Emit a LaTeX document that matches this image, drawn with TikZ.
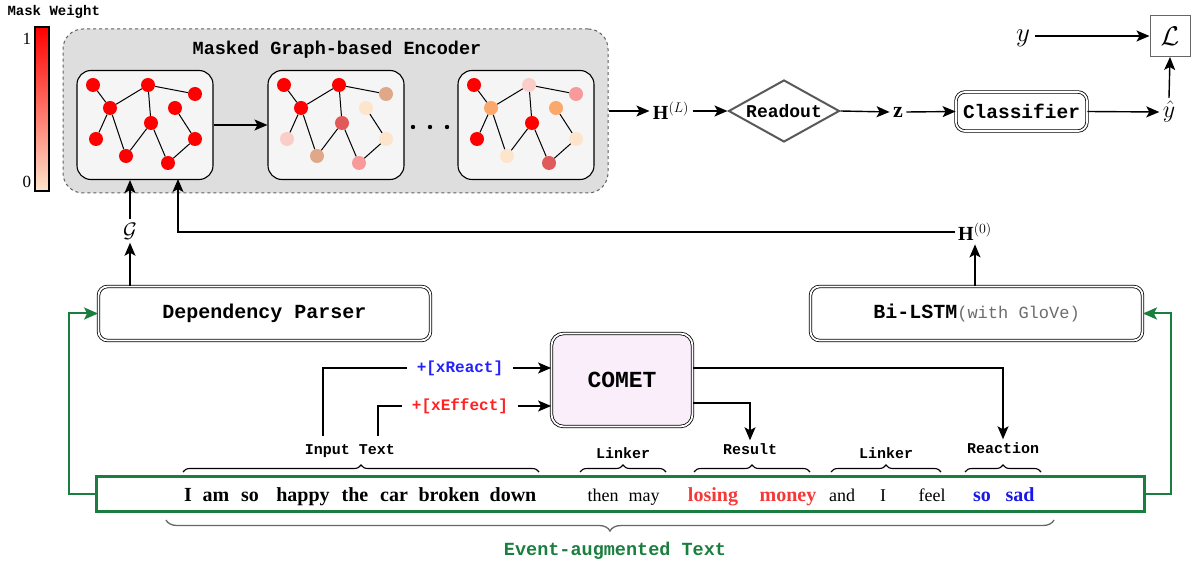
\documentclass[tikz,border=0pt]{standalone}
\usepackage{fix-cm}
\usepackage{fontspec}
\setmainfont{Liberation Serif}
\setmonofont{Liberation Mono}
\usepackage{amsmath}
\usetikzlibrary{arrows.meta,decorations.pathreplacing,shapes.geometric,calc}

\definecolor{gred}{HTML}{FF0000}
\definecolor{gtan}{HTML}{E0A888}
\definecolor{gpeach}{HTML}{FDE5CC}
\definecolor{gdark}{HTML}{E05A5A}
\definecolor{glpink}{HTML}{FACDC8}
\definecolor{gpink}{HTML}{F99A9A}
\definecolor{gorange}{HTML}{FCA86A}
\definecolor{egreen}{HTML}{1A7F3E}
\definecolor{cometfill}{HTML}{FBEEFB}
\definecolor{encfill}{HTML}{DEDEDE}
\definecolor{gboxfill}{HTML}{F5F5F5}
\definecolor{txtred}{HTML}{F53838}
\definecolor{txtblue}{HTML}{1818E8}
\definecolor{lblblue}{HTML}{2222FF}
\definecolor{lblred}{HTML}{FF2222}

\newcommand\fs[1]{\fontsize{#1}{#1}\selectfont}

\newcommand\drawgraph[3]{%
  \foreach \c [count=\i from 0] in {#3}{%
    \pgfmathsetmacro\gx{{93,148,195,110,175,151,96,195,126,168}[\i]+#2}%
    \pgfmathsetmacro\gy{{85,85,94,108,108,123,139,139,156,163}[\i]}%
    \node[gnode,fill=\c] (#1\i) at (\gx,\gy) {};
  }
  \foreach \u/\v in {0/3,3/1,1/2,1/5,3/6,3/8,8/5,5/9,9/7,7/4}
    \draw[gedge] (#1\u) -- (#1\v);
}

\begin{document}
\begin{tikzpicture}[x=1pt,y=-1pt,
  arr/.style={-{Stealth[length=13pt,width=11pt,inset=3pt]}, line width=1.4pt},
  garr/.style={-{Stealth[length=14pt,width=12pt,inset=3pt]}, line width=2pt, draw=egreen},
  gnode/.style={circle, minimum size=14pt, inner sep=0pt},
  gedge/.style={line width=1pt},
  gbox/.style={draw, line width=1.1pt, fill=gboxfill, rounded corners=14pt, minimum width=136pt, minimum height=109pt, inner sep=0pt},
  dbox/.style={draw, double, double distance=1.8pt, line width=0.8pt, rounded corners=9pt, fill=white, inner sep=0pt},
  mono/.style={font=\ttfamily\bfseries\fs{#1}},
  brace/.style={decorate, decoration={brace, amplitude=7pt}, line width=1.1pt},
  lbl/.style={font=\ttfamily\bfseries\fs{15}, inner sep=3pt},
  wb/.style={anchor=base, font=\bfseries\fs{20}},
  wr/.style={anchor=base, font=\fs{18}},
]
\useasboundingbox (0,0) rectangle (1192,561);

% ---- mask weight bar
\node[font=\ttfamily\bfseries\fs{14}, anchor=west] (mw) at (4,12) {Mask Weight};
\shade[top color=gred, bottom color=gpeach] (35,27) rectangle (49,191);
\draw[line width=1.2pt] (35,27) rectangle (49,191);
\node[font=\fs{17}] (one) at (27,39) {1};
\node[font=\fs{17}] (zero) at (27,182) {0};

% ---- encoder
\node[draw=gray!75!black, dashed, line width=1pt, fill=encfill, rounded corners=20pt,
      minimum width=545pt, minimum height=164pt, inner sep=0pt] (enc) at (335.5,111) {};
\node[mono=18.5] (enctitle) at (337,50) {Masked Graph-based Encoder};

\node[gbox] (g1) at (145,125) {};
\node[gbox] (g2) at (336,125) {};
\node[gbox] (g3) at (526,125) {};

\drawgraph{a}{0}{gred,gred,gred,gred,gred,gred,gred,gred,gred,gred}
\drawgraph{b}{191}{gred,gred,gtan,gred,gpeach,gdark,glpink,gpeach,gtan,gpink}
\drawgraph{c}{381}{gred,glpink,gpink,gorange,gorange,gred,gred,gpeach,gpeach,gdark}

\draw[arr] (g1.east) -- (g2.west);
\foreach \dx in {413,430,447} \fill (\dx,127) circle (2.2pt);

% ---- top pipeline
\node[font=\fs{20}] (HL) at (671,111) {$\mathbf{H}^{(L)}$};
\node[diamond, draw=gray!70!black, line width=2pt, fill=white, aspect=1.8,
      minimum width=111pt, minimum height=62pt, inner sep=0pt, mono=18] (ro) at (784,111) {Readout};
\node[font=\fs{22}] (z) at (898,112) {$\mathbf{z}$};
\node[dbox, minimum width=131pt, minimum height=39pt, mono=19.5] (cls) at (1021.5,111.5) {Classifier};
\node[font=\fs{24}] (yhat) at (1169,112) {$\hat{y}$};
\node[draw=gray!80!black, line width=1pt, fill=white, minimum width=40pt, minimum height=41pt, inner sep=0pt, font=\fs{27}] (L) at (1170,36) {$\mathcal{L}$};
\node[font=\fs{27}, inner sep=5pt] (y) at (1023,38) {$y$};

\draw[arr] (enc.east |- HL) -- (HL.west);
\draw[arr] (HL.east) -- (ro.west);
\draw[arr] (ro.east) -- (z.west);
\draw[arr] (z.east) -- (cls.west);
\draw[arr] (cls.east) -- (yhat.west);
\draw[arr] (y.east |- L) -- (L.west);
\draw[arr] (yhat.north) -- (L.south);

% ---- middle
\node[font=\fs{21}] (G) at (130,231) {$\mathcal{G}$};
\node[font=\fs{20}] (H0) at (975,232) {$\mathbf{H}^{(0)}$};
\node[dbox, minimum width=332pt, minimum height=54pt, mono=20] (dp) at (264.5,313.5) {Dependency Parser};
\node[dbox, minimum width=332pt, minimum height=54pt] (bl) at (976.5,313.5)
   {{\ttfamily\bfseries\fs{20}Bi-LSTM}{\ttfamily\fs{17}\color{gray!85!black}(with GloVe)}};
\coordinate (h0in) at (178,179);

\draw[arr] (dp.north -| G) -- (G.south);
\draw[arr] (G.north) -- (G |- g1.south);
\draw[arr] (bl.north -| H0) -- (H0.south);
\draw[arr] (H0.west) -| (h0in);

% ---- COMET
\node[dbox, fill=cometfill, rounded corners=12pt, minimum width=141pt, minimum height=93pt, mono=23] (comet) at (622,380) {COMET};
\node[mono=16, text=lblblue, inner sep=10pt] (xr) at (460,368) {+[xReact]};
\node[mono=16, text=lblred, inner sep=10pt] (xe) at (460,406) {+[xEffect]};
\coordinate (itA) at (323,436);
\coordinate (itB) at (378,436);
\draw[line width=1.4pt] (itA) |- (xr.west);
\draw[line width=1.4pt] (itB) |- (xe.west);
\draw[arr] (xr.east) -- (comet.west |- xr);
\draw[arr] (xe.east) -- (comet.west |- xe);

% ---- brace labels
\node[lbl] (lit) at (350,451) {Input Text};
\node[lbl] (lk1) at (623,453) {Linker};
\node[lbl] (res) at (750,449) {Result};
\node[lbl] (lk2) at (886,453) {Linker};
\node[lbl] (rea) at (1003,448) {Reaction};
\draw[brace] (183,472) -- (539,472);
\draw[brace] (580,472) -- (666,472);
\draw[brace] (694,472) -- (810,472);
\draw[brace] (831,472) -- (941,472);
\draw[brace] (965,472) -- (1041,472);

\draw[arr] (comet.east |- xr) -| (rea.north);
\draw[arr] (comet.east |- 0,403) -| (res.north);

% ---- text box
\node[draw=egreen, line width=2.6pt, fill=white, minimum width=1048pt, minimum height=35pt, inner sep=0pt] (tb) at (620.5,494) {};
\node[wb] (w1) at (188,501) {I};
\node[wb] (w2) at (216,501) {am};
\node[wb] (w3) at (250,501) {so};
\node[wb] (w4) at (303,501) {happy};
\node[wb] (w5) at (355,501) {the};
\node[wb] (w6) at (394,501) {car};
\node[wb] (w7) at (449,501) {broken};
\node[wb] (w8) at (513,501) {down};
\node[wr] (w9) at (603,501) {then};
\node[wr] (w10) at (644,501) {may};
\node[wb, text=txtred] (w11) at (713,501) {losing};
\node[wb, text=txtred] (w12) at (788,501) {money};
\node[wr] (w13) at (842,501) {and};
\node[wr] (w14) at (883,501) {I};
\node[wr] (w15) at (932,501) {feel};
\node[wb, text=txtblue] (w16) at (982,501) {so};
\node[wb, text=txtblue] (w17) at (1020,501) {sad};

\coordinate (gL) at (69,494);
\coordinate (gR) at (1171,494);
\draw[garr] (tb.west) -- (gL) |- (dp.west);
\draw[garr] (tb.east) -- (gR) |- (bl.east);

% ---- bottom brace
\draw[decorate, decoration={brace, amplitude=11pt}, line width=1.3pt, draw=gray!80!black] (1054,520) -- (166,520);
\node[mono=18.5, text=egreen] (eat) at (615,551) {Event-augmented Text};
\end{tikzpicture}
\end{document}
